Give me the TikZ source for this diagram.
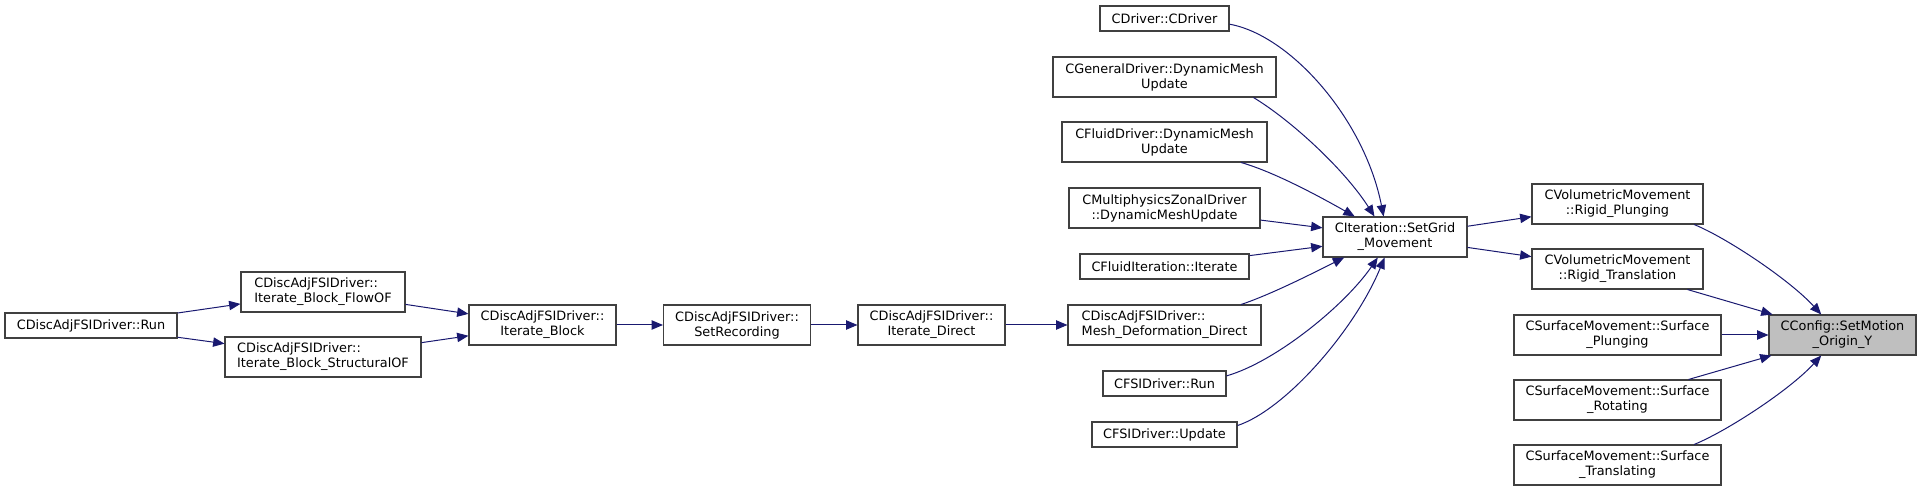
\documentclass[tikz,border=0pt]{standalone}
\usepackage{fontspec}
\setmainfont{DejaVu Sans}
\usetikzlibrary{arrows.meta}
\definecolor{edgeblue}{RGB}{25,25,112}
\definecolor{boxline}{RGB}{64,64,64}
\definecolor{hlgray}{RGB}{191,191,191}

\begin{document}
\begin{tikzpicture}[x=0.75pt, y=-0.75pt,
    fn/.style={draw=boxline, line width=0.8pt, fill=white, inner sep=0pt,
      minimum height=18.75pt, font=\fontsize{9.65}{11.25}\selectfont, align=center},
    fntwo/.style={fn, minimum height=30pt},
    call/.style={edgeblue, line width=0.75pt, -{Triangle[length=8.5pt,width=7pt]}}]
  \useasboundingbox (0,0) rectangle (1921,491);
  % Left chain
  \node[fn, minimum width=129pt] (run) at (91,325.5) {CDiscAdjFSIDriver::Run};
  \node[fntwo, align=left, minimum width=123pt] (flowof) at (323,292) {CDiscAdjFSIDriver::\\Iterate\_Block\_FlowOF};
  \node[fntwo, align=left, minimum width=147pt] (structof) at (323,357) {CDiscAdjFSIDriver::\\Iterate\_Block\_StructuralOF};
  \node[fntwo, minimum width=110.25pt] (iblock) at (542.5,325) {CDiscAdjFSIDriver::\\Iterate\_Block};
  \node[fntwo, minimum width=110.25pt] (setrec) at (737,325) {CDiscAdjFSIDriver::\\SetRecording};
  \node[fntwo, minimum width=110.25pt] (idirect) at (931.5,325) {CDiscAdjFSIDriver::\\Iterate\_Direct};
  % Callers of SetGrid_Movement
  \node[fntwo, align=left, minimum width=144.75pt] (meshdef) at (1164.5,325) {CDiscAdjFSIDriver::\\Mesh\_Deformation\_Direct};
  \node[fn, minimum width=96.75pt] (cdriver) at (1164.5,18.5) {CDriver::CDriver};
  \node[fntwo, minimum width=167.25pt] (general) at (1164.5,77) {CGeneralDriver::DynamicMesh\\Update};
  \node[fntwo, minimum width=153.75pt] (fluiddrv) at (1164.5,142) {CFluidDriver::DynamicMesh\\Update};
  \node[fntwo, minimum width=143.25pt] (multi) at (1164.5,208) {CMultiphysicsZonalDriver\\::DynamicMeshUpdate};
  \node[fn, minimum width=126.75pt] (fluiditer) at (1164.5,266.5) {CFluidIteration::Iterate};
  \node[fn, minimum width=92.25pt] (fsirun) at (1164.5,383.5) {CFSIDriver::Run};
  \node[fn, minimum width=108.75pt] (fsiupd) at (1164.5,434.5) {CFSIDriver::Update};
  \node[fntwo, minimum width=108pt] (setgrid) at (1395,237) {CIteration::SetGrid\\\_Movement};
  % Direct callers
  \node[fntwo, minimum width=128.25pt] (rplung) at (1617.5,204) {CVolumetricMovement\\::Rigid\_Plunging};
  \node[fntwo, minimum width=128.25pt] (rtrans) at (1617.5,269) {CVolumetricMovement\\::Rigid\_Translation};
  \node[fntwo, minimum width=155.25pt] (splung) at (1617.5,335) {CSurfaceMovement::Surface\\\_Plunging};
  \node[fntwo, minimum width=155.25pt] (srot) at (1617.5,400) {CSurfaceMovement::Surface\\\_Rotating};
  \node[fntwo, minimum width=155.25pt] (strans) at (1617.5,465) {CSurfaceMovement::Surface\\\_Translating};
  \node[fntwo, fill=hlgray, minimum width=110.25pt] (motion) at (1842.5,335) {CConfig::SetMotion\\\_Origin\_Y};
  % Calls
  \draw[call] (run) -- (flowof);
  \draw[call] (run) -- (structof);
  \draw[call] (flowof) -- (iblock);
  \draw[call] (structof) -- (iblock);
  \draw[call] (iblock) -- (setrec);
  \draw[call] (setrec) -- (idirect);
  \draw[call] (idirect) -- (meshdef);
  \draw[call] (cdriver.-5) .. controls +(61,11) and +(-19,-97) .. (setgrid.119);
  \draw[call] (general.-13) .. controls +(38,23) and +(-30,-47) .. (setgrid.135);
  \draw[call] (fluiddrv.-15) .. controls +(35,10) and +(-30,-17) .. (setgrid.153);
  \draw[call] (multi) -- (setgrid);
  \draw[call] (fluiditer) -- (setgrid);
  \draw[call] (meshdef.15) .. controls +(30,-10) and +(-30,15) .. (setgrid.-158);
  \draw[call] (fsirun.7) .. controls +(49,-14) and +(-33,48) .. (setgrid.-130);
  \draw[call] (fsiupd.7) .. controls +(48,-16) and +(-30,73) .. (setgrid.-117);
  \draw[call] (setgrid) -- (rplung);
  \draw[call] (setgrid) -- (rtrans);
  \draw[call] (rplung.-15) .. controls +(32,13) and +(-32,-35) .. (motion.136);
  \draw[call] (rtrans) -- (motion);
  \draw[call] (splung) -- (motion);
  \draw[call] (srot) -- (motion);
  \draw[call] (strans.15) .. controls +(32,-13) and +(-32,35) .. (motion.-136);
\end{tikzpicture}
\end{document}
